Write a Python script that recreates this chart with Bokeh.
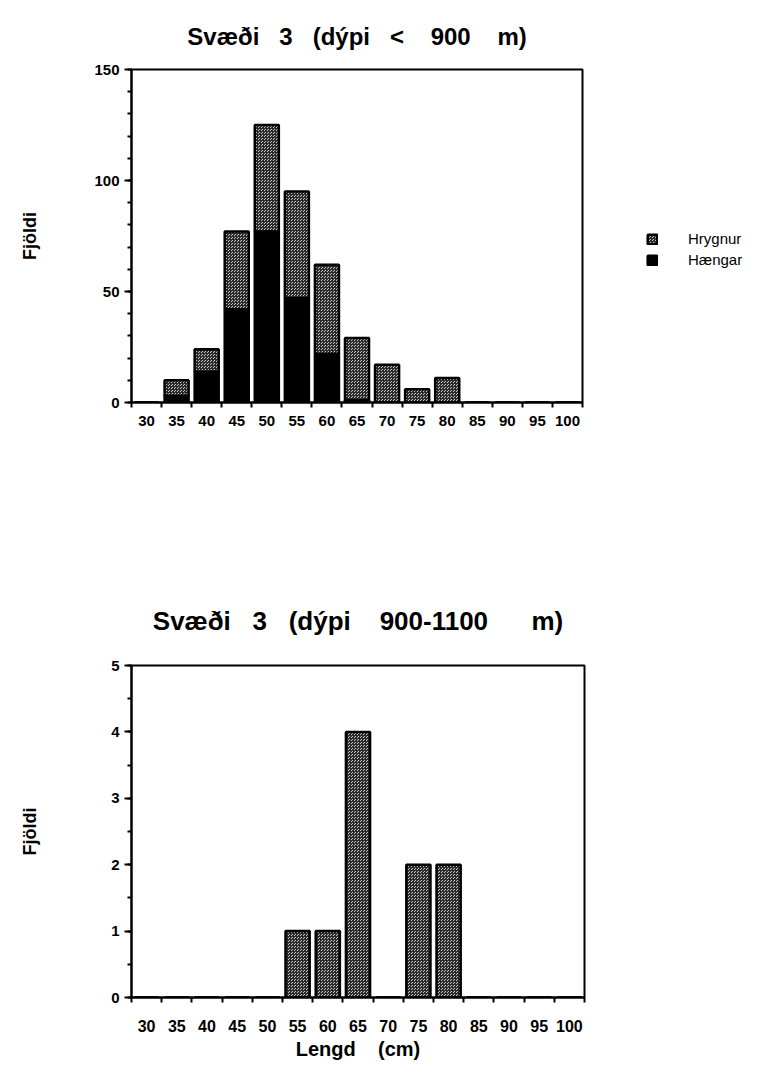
from bokeh.plotting import figure
from bokeh.layouts import column
from bokeh.models import FixedTicker, Legend, LegendItem, ColumnDataSource
from bokeh.embed import file_html
from bokeh.resources import INLINE

NB = "\u00a0"
lengths = [30, 35, 40, 45, 50, 55, 60, 65, 70, 75, 80, 85, 90, 95, 100]
tick_labels = [str(v) for v in lengths]

# Chart 1: depth < 900 m
haengar_1 = [0, 3, 14, 42, 77, 47, 22, 1, 0, 0, 0, 0, 0, 0, 0]
hrygnur_1 = [0, 7, 10, 35, 48, 48, 40, 28, 17, 6, 11, 0, 0, 0, 0]

# Chart 2: depth 900-1100 m
haengar_2 = [0, 0, 0, 0, 0, 0, 0, 0, 0, 0, 0, 0, 0, 0, 0]
hrygnur_2 = [0, 0, 0, 0, 0, 1, 1, 4, 0, 2, 2, 0, 0, 0, 0]

title_1 = f"Svæði{NB*3}3{NB*3}(dýpi{NB*3}<{NB*4}900{NB*4}m)"
title_2 = f"Svæði{NB*3}3{NB*3}(dýpi{NB*4}900-1100{NB*6}m)"
ylab = "Fjöldi"
xlab = f"Lengd{NB*4}(cm)"

FONT = "Liberation Sans"

STIP = dict(fill_color="#c4c4c4", hatch_pattern="criss_cross", hatch_color="#2a2a2a",
            hatch_scale=3.0, hatch_weight=1.0)


def make_fig(title, tsize, tstand, ymax, ymajor, yminor, haeng, hryg, left, top, bottom,
             fw, fh, legend, xlabel, xstand, xsize, ystand):
    p = figure(output_backend="svg", toolbar_location=None, title=title,
               frame_width=fw, frame_height=fh,
               x_range=(27.5, 102.5), y_range=(0, ymax),
               min_border_left=left, min_border_top=top, min_border_bottom=bottom,
               min_border_right=10)
    p.title.align = "center"
    p.title.text_font = FONT
    p.title.text_font_size = tsize
    p.title.text_font_style = "bold"
    p.title.text_color = "black"
    p.title.vertical_align = "bottom"
    p.title.standoff = tstand
    p.grid.visible = False
    p.outline_line_color = "black"
    p.outline_line_width = 2
    p.background_fill_color = "white"
    p.border_fill_color = "white"

    data = dict(x=lengths, haeng=haeng, hryg=hryg,
                top1=haeng, top2=[a + b for a, b in zip(haeng, hryg)])
    src = ColumnDataSource(data)
    r1 = p.vbar(x="x", width=4.0, bottom=0, top="top1", source=src,
                fill_color="black", line_color="black", line_width=2.5)
    r2 = p.vbar(x="x", width=4.0, bottom="top1", top="top2", source=src,
                line_color="black", line_width=2.5, **STIP)

    xa = p.xaxis[0]
    xa.ticker = FixedTicker(ticks=lengths,
                            minor_ticks=[v - 2.5 for v in lengths] + [102.5])
    xa.major_label_overrides = {v: s for v, s in zip(lengths, tick_labels)}
    xa.major_tick_out = 0
    xa.major_tick_in = 0
    xa.minor_tick_out = 5
    xa.minor_tick_in = 0
    xa.minor_tick_line_width = 2
    xa.minor_tick_line_color = "black"
    xa.axis_line_width = 2
    xa.axis_line_color = "black"
    xa.major_label_text_font = FONT
    xa.major_label_text_font_style = "bold"
    xa.major_label_text_font_size = xsize
    xa.major_label_text_color = "black"
    xa.major_label_standoff = xstand
    if xlabel:
        xa.axis_label = xlabel
        xa.axis_label_text_font = FONT
        xa.axis_label_text_font_style = "bold"
        xa.axis_label_text_font_size = "20px"
        xa.axis_label_text_color = "black"
        xa.axis_label_standoff = 3

    ya = p.yaxis[0]
    ya.ticker = FixedTicker(ticks=ymajor, minor_ticks=yminor)
    ya.major_tick_out = 7
    ya.major_tick_in = 0
    ya.minor_tick_out = 4
    ya.minor_tick_in = 0
    ya.major_tick_line_width = 2
    ya.minor_tick_line_width = 2
    ya.major_tick_line_color = "black"
    ya.minor_tick_line_color = "black"
    ya.axis_line_width = 2
    ya.axis_line_color = "black"
    ya.major_label_text_font = FONT
    ya.major_label_text_font_style = "bold"
    ya.major_label_text_font_size = "15px"
    ya.major_label_text_color = "black"
    ya.major_label_standoff = 5
    ya.axis_label = ylab
    ya.axis_label_text_font = FONT
    ya.axis_label_text_font_style = "bold"
    ya.axis_label_text_font_size = "18px"
    ya.axis_label_text_color = "black"
    ya.axis_label_standoff = ystand

    if legend:
        leg = Legend(items=[LegendItem(label="Hrygnur", renderers=[r2]),
                            LegendItem(label="Hængar", renderers=[r1])],
                     location=(64, 134), margin=0, padding=0, spacing=4,
                     glyph_width=12, glyph_height=12, label_standoff=30,
                     label_text_font=FONT, label_text_font_size="15px",
                     label_text_color="black",
                     border_line_color=None, background_fill_alpha=0)
        p.add_layout(leg, "right")
    return p


p1 = make_fig(title_1, "24px", 40, 150, [0, 50, 100, 150], list(range(0, 151, 10)),
              haengar_1, hrygnur_1, 131, 69, 100, 451, 333, True, None, 8, "15px", 51)
p2 = make_fig(title_2, "26px", 60, 5, [0, 1, 2, 3, 4, 5], [i * 0.5 for i in range(11)],
              haengar_2, hrygnur_2, 131, 163, 62, 453, 332, False, xlab, 17, "16px", 68)

layout = column(p1, p2, spacing=0)
open("out.html", "w").write(file_html(layout, INLINE))
